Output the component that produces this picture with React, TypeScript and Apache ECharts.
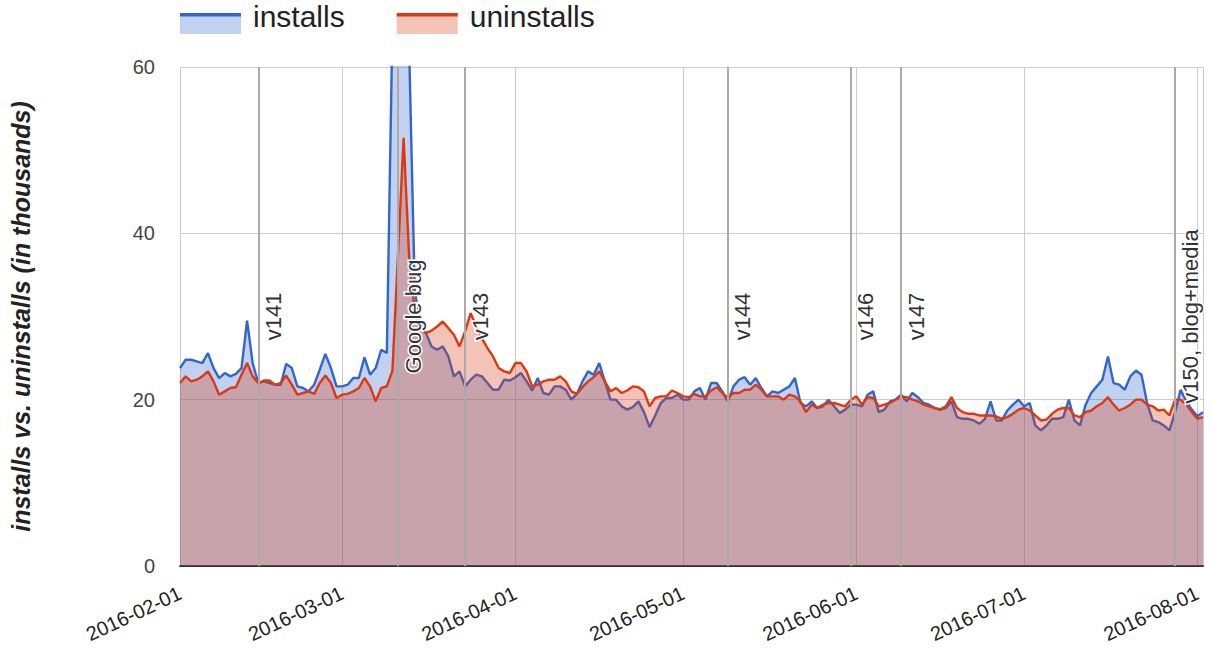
import React, { useEffect, useRef } from "react";
import * as echarts from "echarts";

// daily values (thousands), starting 2016-02-01
const installs = [
  23.8, 24.8, 24.8, 24.6, 24.4, 25.6, 23.8, 22.6, 23.2, 22.8,
  23.1, 23.8, 29.5, 24.4, 22.0, 22.2, 22.0, 21.8, 21.8, 24.3,
  23.8, 21.6, 21.4, 21.0, 21.8, 23.6, 25.5, 23.8, 21.6, 21.6,
  21.8, 22.6, 22.6, 25.1, 23.0, 23.8, 26.0, 25.6, 65, 110,
  100, 62, 33, 29.2, 28.0, 26.4, 26.0, 26.4, 25.2, 22.8,
  23.4, 21.6, 22.4, 23.0, 22.8, 22.0, 21.2, 21.2, 22.4, 22.3,
  22.7, 23.2, 22.2, 21.1, 22.6, 20.8, 20.6, 21.6, 21.6, 21.2,
  20.0, 20.7, 22.2, 23.4, 23.0, 24.4, 22.2, 20.0, 20.0, 19.2,
  18.8, 19.1, 19.8, 18.5, 16.7, 18.1, 19.6, 20.2, 20.2, 20.6,
  20.0, 20.0, 21.0, 21.4, 20.0, 22.0, 22.0, 21.0, 19.8, 21.6,
  22.4, 22.7, 21.8, 22.6, 21.4, 20.4, 21.0, 20.8, 21.2, 21.6,
  22.6, 19.6, 19.2, 19.8, 19.0, 19.2, 20.0, 19.2, 18.4, 18.8,
  19.4, 19.4, 19.2, 20.6, 21.0, 18.5, 18.8, 19.8, 20.0, 20.6,
  19.8, 20.8, 20.3, 19.6, 19.4, 19.0, 18.8, 19.0, 19.8, 17.9,
  17.7, 17.7, 17.5, 17.1, 17.7, 19.8, 17.5, 17.5, 18.7, 19.4,
  20.0, 19.2, 19.6, 16.9, 16.3, 16.9, 17.7, 17.7, 17.9, 20.0,
  17.5, 16.9, 19.4, 20.8, 21.6, 22.4, 25.2, 22.0, 21.8, 21.2,
  22.8, 23.5, 23.0, 19.6, 17.5, 17.3, 16.9, 16.3, 18.5, 21.2,
  19.8, 18.8, 18.0, 18.5,
];

const uninstalls = [
  22.0, 22.8, 22.2, 22.4, 22.8, 23.4, 22.2, 20.6, 21.0, 21.4,
  21.5, 23.0, 24.4, 22.8, 22.0, 22.3, 22.3, 21.8, 22.0, 22.9,
  21.8, 20.6, 20.8, 21.0, 20.7, 22.0, 22.9, 22.0, 20.2, 20.6,
  20.7, 21.0, 21.4, 22.6, 21.6, 19.8, 21.4, 21.6, 23.5, 37.5,
  51.5, 37.0, 30.5, 28.5, 28.0, 28.3, 28.8, 29.4, 28.6, 27.8,
  26.4, 28.2, 30.4, 28.8, 27.4, 26.2, 25.2, 23.8, 23.4, 23.2,
  24.4, 24.4, 23.4, 21.6, 21.8, 22.2, 22.4, 22.4, 22.8, 22.2,
  21.0, 20.7, 21.5, 22.2, 22.7, 23.4, 22.2, 21.0, 21.4, 20.8,
  21.1, 21.6, 21.5, 21.0, 19.2, 20.2, 20.4, 20.4, 21.1, 20.8,
  20.4, 20.3, 20.7, 20.4, 20.4, 21.1, 21.5, 20.8, 20.2, 20.8,
  20.8, 21.2, 21.2, 21.8, 21.2, 20.4, 20.4, 20.4, 20.0, 20.6,
  20.4, 19.8, 18.5, 19.4, 19.0, 19.4, 19.6, 19.6, 19.4, 19.2,
  20.0, 20.4, 19.4, 20.3, 20.2, 19.2, 19.4, 19.6, 20.0, 20.4,
  20.3, 20.0, 19.8, 19.4, 19.2, 19.0, 18.8, 19.2, 20.3, 19.0,
  18.5, 18.3, 18.3, 18.1, 18.1, 18.1, 18.0, 17.7, 17.9, 18.3,
  18.8, 19.0, 18.7, 18.1, 17.5, 17.6, 18.3, 18.8, 19.0, 19.0,
  18.1, 17.9, 18.5, 18.7, 19.2, 19.6, 20.3, 19.4, 18.7, 19.0,
  19.4, 20.0, 20.0, 19.4, 19.2, 18.7, 18.8, 18.1, 20.0, 20.0,
  19.4, 18.5, 17.7, 17.9,
];

const annotationDates = [
  "2016-02-15", "2016-03-11", "2016-03-23", "2016-05-09",
  "2016-05-31", "2016-06-09", "2016-07-28",
];
const annotationLabels = [
  "v141", "Google bug", "v143", "v144", "v146", "v147", "v150, blog+media",
];

const yTicks = [0, 20, 40, 60];
const seriesNames = ["installs", "uninstalls"];
const seriesColors = ["#3366cc", "#dc3912"];
const seriesFills = ["rgba(51,102,204,0.3)", "rgba(220,57,18,0.3)"];

const FONT = "'Liberation Sans', Arial, sans-serif";

function pad(n: number) {
  return n < 10 ? "0" + n : "" + n;
}
function parseDay(s: string) {
  const [y, m, d] = s.split("-").map(Number);
  return new Date(y, m - 1, d).getTime();
}
function fmtDay(v: number) {
  const d = new Date(v);
  return `${d.getFullYear()}-${pad(d.getMonth() + 1)}-${pad(d.getDate())}`;
}

export default function App() {
  const ref = useRef<HTMLDivElement>(null);
  useEffect(() => {
    document.body.style.margin = "0";
    if (!ref.current) return;
    const chart = echarts.init(ref.current, null, { renderer: "svg" });
    const DAY = 86400000;
    const start = new Date(2016, 1, 1);
    const dates = installs.map((_, i) =>
      new Date(start.getFullYear(), start.getMonth(), start.getDate() + i).getTime()
    );
    const xMin = dates[0];
    const xMax = dates[dates.length - 1];
    const legendBase = {
      left: 180,
      top: -2,
      padding: 0,
      itemWidth: 61,
      itemHeight: 36,
      itemGap: 52,
      selectedMode: false,
      itemStyle: { borderWidth: 0 },
    };
    const legendText = { fontSize: 30, padding: [0, 0, 0, 7], fontFamily: FONT };
    const option: any = {
      animation: false,
      textStyle: { fontFamily: FONT },
      legend: [
        {
          ...legendBase,
          icon: "path://M0,0L0.01,0L0,0.01Z M0,15L61,15L61,36L0,36Z",
          textStyle: { ...legendText, color: "#222" },
          data: seriesNames.map((n, i) => ({
            name: n,
            itemStyle: { color: seriesFills[i], borderWidth: 0 },
          })),
        },
        {
          ...legendBase,
          z: 10,
          icon: "path://M0,0L0.01,0L0,0.01Z M0,15L61,15L61,18.5L0,18.5Z M0,36L0.01,36L0,35.99Z",
          textStyle: { ...legendText, color: "rgba(0,0,0,0)" },
          data: seriesNames.map((n, i) => ({
            name: n,
            itemStyle: { color: seriesColors[i], borderWidth: 0 },
          })),
        },
      ],
      grid: { left: 180, right: 10, top: 67, bottom: 94, outerBoundsMode: "none" },
      xAxis: {
        type: "time",
        min: xMin,
        max: xMax,
        splitNumber: 6,
        minInterval: 28 * DAY,
        maxInterval: 31 * DAY,
        axisLine: { show: true, lineStyle: { color: "#333", width: 2 } },
        axisTick: { show: false },
        axisLabel: {
          rotate: 25,
          fontSize: 20,
          color: "#222",
          margin: 26,
          fontFamily: FONT,
          formatter: (v: number) => fmtDay(v),
        },
        splitLine: { show: true, lineStyle: { color: "#cccccc", width: 1 } },
      },
      yAxis: {
        type: "value",
        min: yTicks[0],
        max: yTicks[yTicks.length - 1],
        interval: yTicks[1] - yTicks[0],
        name: "installs vs. uninstalls (in thousands)",
        nameLocation: "middle",
        nameGap: 147,
        nameTextStyle: {
          fontSize: 25,
          fontWeight: "bold",
          fontStyle: "italic",
          color: "#222",
          fontFamily: FONT,
        },
        axisLine: { show: false },
        axisTick: { show: false },
        axisLabel: { fontSize: 20, color: "#444", margin: 25, fontFamily: FONT },
        splitLine: { show: true, lineStyle: { color: "#cccccc", width: 1 } },
      },
      series: [
        {
          name: seriesNames[0],
          type: "line",
          data: dates.map((d, i) => [d, installs[i]]),
          showSymbol: false,
          symbol: "none",
          clip: true,
          z: 2,
          color: seriesColors[0],
          lineStyle: { color: seriesColors[0], width: 2.4 },
          areaStyle: { color: seriesColors[0], opacity: 0.3 },
        },
        {
          name: seriesNames[1],
          type: "line",
          data: dates.map((d, i) => [d, uninstalls[i]]),
          showSymbol: false,
          symbol: "none",
          clip: true,
          z: 3,
          color: seriesColors[1],
          lineStyle: { color: seriesColors[1], width: 2.4 },
          areaStyle: { color: seriesColors[1], opacity: 0.3 },
          markLine: {
            silent: true,
            symbol: ["none", "none"],
            lineStyle: { color: "#aaa", width: 2, type: "solid" },
            emphasis: { disabled: true },
            label: {
              show: true,
              position: "insideMiddleBottom",
              formatter: "{b}",
              fontSize: 22,
              color: "#333",
              fontFamily: FONT,
              textBorderColor: "#fff",
              textBorderWidth: 3,
              distance: 4,
            },
            data: annotationDates.map((d, i) => ({
              name: annotationLabels[i],
              xAxis: parseDay(d),
            })),
          },
        },
      ],
    };
    chart.setOption(option);
    return () => chart.dispose();
  }, []);
  return <div ref={ref} style={{ width: 1213, height: 660 }} />;
}
